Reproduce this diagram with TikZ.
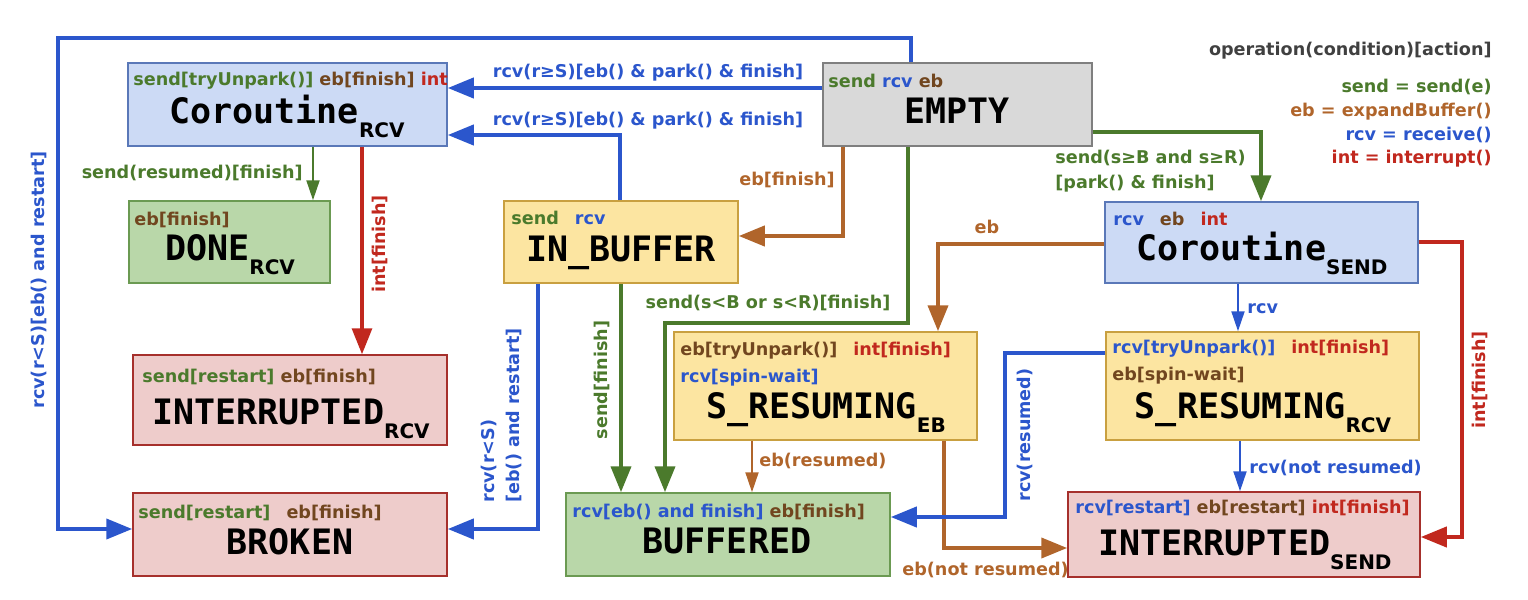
\documentclass[tikz,border=0pt]{standalone}
\usepackage{fontspec}
\setmainfont{DejaVu Sans}
\newfontfamily\namefont{DejaVu Sans Mono}
\newfontfamily\subfont{DejaVu Sans}
\usetikzlibrary{arrows.meta,fit}

%% colours of the operations
\definecolor{rcvblue}{HTML}{2B56CC}
\definecolor{sendgreen}{HTML}{4B7A2C}
\definecolor{ebbrown}{HTML}{B0652B}
\definecolor{ebdark}{HTML}{71461F}
\definecolor{intred}{HTML}{C1281E}
\definecolor{legendgray}{HTML}{404040}
%% colours of the states
\definecolor{bluefill}{HTML}{CCDAF5}
\definecolor{blueedge}{HTML}{5A78B8}
\definecolor{greenfill}{HTML}{B9D7A9}
\definecolor{greenedge}{HTML}{6B9A52}
\definecolor{pinkfill}{HTML}{EECCCB}
\definecolor{pinkedge}{HTML}{A6302C}
\definecolor{yellowfill}{HTML}{FCE5A1}
\definecolor{yellowedge}{HTML}{C9A040}
\definecolor{grayfill}{HTML}{D9D9D9}
\definecolor{grayedge}{HTML}{7F7F7F}

\newcommand\stsub[1]{\raisebox{-7pt}{\subfont\bfseries\fontsize{10}{10}\selectfont #1}}
\newcommand\sndc[1]{\textcolor{sendgreen}{#1}}
\newcommand\rcvc[1]{\textcolor{rcvblue}{#1}}
\newcommand\ebc[1]{\textcolor{ebdark}{#1}}
\newcommand\intc[1]{\textcolor{intred}{#1}}
\newcommand\gap{\hspace{8pt}}

\tikzset{
  lbl/.style={font=\bfseries\fontsize{8.8}{12.5}\selectfont, inner sep=0pt},
  tag/.style={lbl, anchor=base west},
  stname/.style={font=\namefont\bfseries\fontsize{17.5}{18}\selectfont, inner sep=0pt, anchor=base},
  state/.style={draw, line width=0.75pt, inner sep=0pt, rectangle},
  rcvstate/.style={state, fill=bluefill, draw=blueedge},
  donestate/.style={state, fill=greenfill, draw=greenedge},
  failstate/.style={state, fill=pinkfill, draw=pinkedge},
  waitstate/.style={state, fill=yellowfill, draw=yellowedge},
  emptystate/.style={state, fill=grayfill, draw=grayedge},
  conn/.style={line width=2pt, -{Triangle[length=13pt,width=10pt]}},
  connthin/.style={line width=1pt, -{Triangle[length=10pt,width=6.5pt]}},
}

\begin{document}
\begin{tikzpicture}[x=0.5pt, y=-0.5pt]
  \useasboundingbox (0,0) rectangle (1528,600);

  %%-- STATES --%%
  \node[rcvstate,   fit={(128,63) (447,146)}]   (corRcv)   {};
  \node[donestate,  fit={(129,201) (330,283)}]  (done)     {};
  \node[failstate,  fit={(133,355) (447,445)}]  (intRcv)   {};
  \node[failstate,  fit={(133,493) (447,576)}]  (broken)   {};
  \node[emptystate, fit={(823,63) (1092,146)}]  (empty)    {};
  \node[waitstate,  fit={(504,201) (738,283)}]  (inBuf)    {};
  \node[rcvstate,   fit={(1105,202) (1418,283)}] (corSend) {};
  \node[waitstate,  fit={(674,332) (977,440)}]  (sresEb)   {};
  \node[waitstate,  fit={(1106,332) (1419,440)}] (sresRcv) {};
  \node[donestate,  fit={(566,493) (890,576)}]  (buffered) {};
  \node[failstate,  fit={(1068,492) (1420,577)}] (intSend) {};

  %%-- STATE NAMES --%%
  \node[stname] (corRcvName)   at (287,123)  {Coroutine\stsub{RCV}};
  \node[stname] (doneName)     at (230,260)  {DONE\stsub{RCV}};
  \node[stname] (intRcvName)   at (291,424)  {INTERRUPTED\stsub{RCV}};
  \node[stname] (brokenName)   at (290,554)  {BROKEN};
  \node[stname] (emptyName)    at (957,123)  {EMPTY};
  \node[stname] (inBufName)    at (621,261)  {IN\_BUFFER};
  \node[stname] (corSendName)  at (1262,260) {Coroutine\stsub{SEND}};
  \node[stname] (sresEbName)   at (826,418)  {S\_RESUMING\stsub{EB}};
  \node[stname] (sresRcvName)  at (1263,418) {S\_RESUMING\stsub{RCV}};
  \node[stname] (bufferedName) at (727,553)  {BUFFERED};
  \node[stname] (intSendName)  at (1245,555) {INTERRUPTED\stsub{SEND}};

  %%-- OPERATIONS ALLOWED IN EACH STATE --%%
  \node[tag] (corRcvTag)   at (133,85)   {\sndc{send[tryUnpark()]} \ebc{eb[finish]} \intc{int}};
  \node[tag] (doneTag)     at (134,225)  {\ebc{eb[finish]}};
  \node[tag] (intRcvTag)   at (142,382)  {\sndc{send[restart]} \ebc{eb[finish]}};
  \node[tag] (brokenTag)   at (138,518)  {\sndc{send[restart]}\gap\ebc{eb[finish]}};
  \node[tag] (emptyTag)    at (828,87)   {\sndc{send} \rcvc{rcv} \ebc{eb}};
  \node[tag] (inBufTag)    at (511,224)  {\sndc{send}\gap\rcvc{rcv}};
  \node[tag] (corSendTag)  at (1113,225) {\rcvc{rcv}\gap\ebc{eb}\gap\intc{int}};
  \node[tag] (sresEbTag)   at (680,355)  {\ebc{eb[tryUnpark()]}\gap\intc{int[finish]}};
  \node[tag] (sresEbWait)  at (680,382)  {\rcvc{rcv[spin-wait]}};
  \node[tag] (sresRcvTag)  at (1112,353) {\rcvc{rcv[tryUnpark()]}\gap\intc{int[finish]}};
  \node[tag] (sresRcvWait) at (1112,380) {\ebc{eb[spin-wait]}};
  \node[tag] (bufferedTag) at (572,517)  {\rcvc{rcv[eb() and finish]} \ebc{eb[finish]}};
  \node[tag] (intSendTag)  at (1075,513) {\rcvc{rcv[restart]} \ebc{eb[restart]} \intc{int[finish]}};

  %%-- LEGEND (right aligned at x = 1492) --%%
  \node[lbl, anchor=base east, text=legendgray] (legendHead) at (1492,55) {operation(condition)[action]};
  \foreach \txt/\col/\yy [count=\i] in {send = send(e)/sendgreen/92, eb = expandBuffer()/ebbrown/116,
      rcv = receive()/rcvblue/140, int = interrupt()/intred/163} {
    \node[lbl, anchor=base east, text=\col] (legend\i) at (1492,\yy) {\txt};
  }

  %%-- EB TRANSITIONS --%%
  \draw[conn, ebbrown] (843,0 |- empty.south) |- (inBuf.east |- 0,236);
  \draw[conn, ebbrown] (corSend.west |- 0,244) -| (938,0 |- sresEb.north);
  \draw[connthin, ebbrown] (752,0 |- sresEb.south) -- (752,0 |- buffered.north);
  \draw[conn, ebbrown] (944,0 |- sresEb.south) |- (intSend.west |- 0,548);
  \node[lbl, anchor=base east, text=ebbrown] (ebFinishLbl) at (835,185) {eb[finish]};
  \node[lbl, anchor=base, text=ebbrown] (ebLbl) at (987,233) {eb};
  \node[lbl, anchor=base west, text=ebbrown] (ebResLbl) at (759,466) {eb(resumed)};
  \node[lbl, anchor=base west, text=ebbrown] (ebNotResLbl) at (902,575) {eb(not resumed)};

  %%-- SEND TRANSITIONS --%%
  \draw[connthin, sendgreen] (313,0 |- corRcv.south) -- (313,0 |- done.north);
  \draw[conn, sendgreen] (908,0 |- empty.south) |- (665,323) -- (665,0 |- buffered.north);
  \draw[conn, sendgreen] (empty.east |- 0,132) -| (1261,0 |- corSend.north);
  \draw[conn, sendgreen] (621,0 |- inBuf.south) -- (621,0 |- buffered.north);
  \node[lbl, anchor=base east, text=sendgreen] (sendResLbl) at (303,178) {send(resumed)[finish]};
  \node[lbl, anchor=base, text=sendgreen] (sendBufLbl) at (768,308) {send(s<B or s<R)[finish]};
  \node[lbl, anchor=north west, align=left, text=sendgreen] (sendParkLbl) at (1055,150)
    {send(s≥B and s≥R)\\{}[park() \& finish]};
  \node[lbl, rotate=90, text=sendgreen] (sendFinLbl) at (602,380) {send[finish]};

  %%-- INT TRANSITIONS --%%
  \draw[conn, intred, line width=1.6pt] (362,0 |- corRcv.south) -- (362,0 |- intRcv.north);
  \draw[conn, intred] (corSend.east |- 0,242) -| (1462,400) |- (intSend.east |- 0,537);
  \node[lbl, rotate=90, text=intred] (intRcvLbl) at (380,244) {int[finish]};
  \node[lbl, rotate=90, text=intred] (intSendLbl) at (1480,380) {int[finish]};

  %%-- RCV TRANSITIONS --%%
  \draw[conn, rcvblue] (911,0 |- empty.north) |- (58,38) |- (broken.west |- 0,529);
  \draw[conn, rcvblue] (empty.west |- 0,88) -- (corRcv.east |- 0,88);
  \draw[conn, rcvblue] (620,0 |- inBuf.north) |- (corRcv.east |- 0,135);
  \draw[conn, rcvblue] (538,0 |- inBuf.south) |- (broken.east |- 0,529);
  \draw[connthin, rcvblue] (1238,0 |- corSend.south) -- (1238,0 |- sresRcv.north);
  \draw[conn, rcvblue] (sresRcv.west |- 0,353) -| (1005,517) -- (buffered.east |- 0,517);
  \draw[connthin, rcvblue] (1240,0 |- sresRcv.south) -- (1240,0 |- intSend.north);
  \node[lbl, rotate=90, text=rcvblue] (rcvBrokenLbl) at (39,280) {rcv(r<S)[eb() and restart]};
  \node[lbl, anchor=base, text=rcvblue] (rcvParkLbl) at (648,77) {rcv(r≥S)[eb() \& park() \& finish]};
  \node[lbl, anchor=base, text=rcvblue] (rcvParkBufLbl) at (648,125) {rcv(r≥S)[eb() \& park() \& finish]};
  \node[lbl, rotate=90, anchor=west, align=left, text=rcvblue] (rcvRestartLbl) at (501,503)
    {rcv(r<S)\\{}[eb() and restart]};
  \node[lbl, anchor=base west, text=rcvblue] (rcvLbl) at (1247,313) {rcv};
  \node[lbl, rotate=90, text=rcvblue] (rcvResLbl) at (1025,435) {rcv(resumed)};
  \node[lbl, anchor=base west, text=rcvblue] (rcvNotResLbl) at (1249,473) {rcv(not resumed)};

\end{tikzpicture}
\end{document}
